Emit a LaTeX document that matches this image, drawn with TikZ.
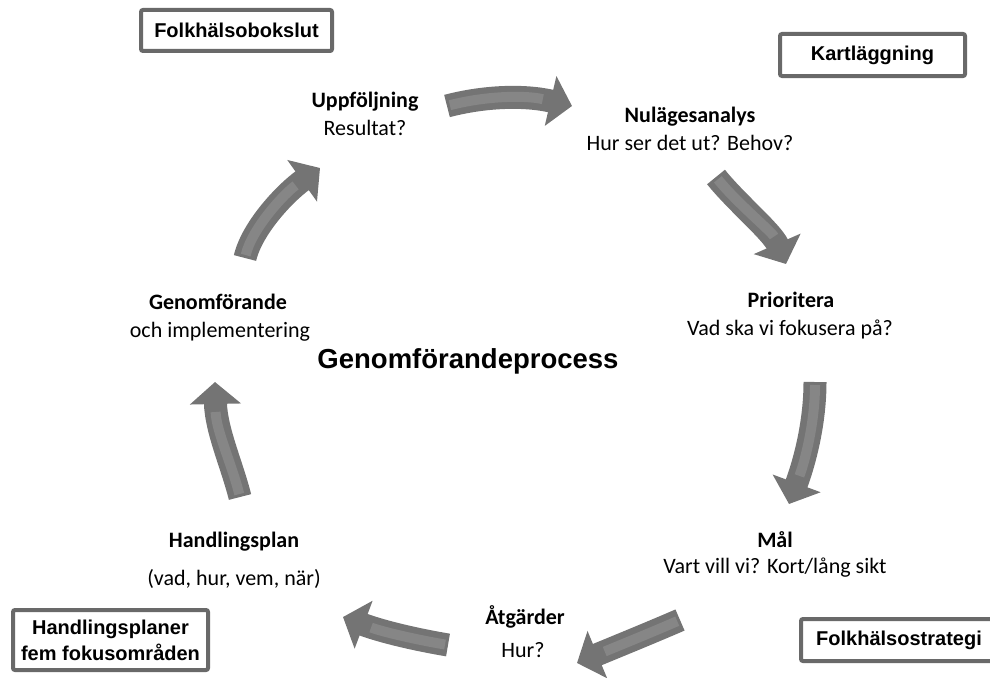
\documentclass[tikz,border=0pt]{standalone}
\usepackage{fontspec}
\setmainfont{Carlito}
\newfontfamily\arialfont{Liberation Sans}
\usetikzlibrary{arrows.meta}
\definecolor{arrowgray}{RGB}{116,116,116}
\definecolor{arrowlight}{RGB}{134,134,134}
\definecolor{boxgray}{RGB}{105,105,105}
\tikzset{
 stagehead/.style={font=\fontsize{22}{26}\selectfont\bfseries, inner sep=0pt, anchor=base},
 stagetext/.style={font=\fontsize{22}{26}\selectfont, inner sep=0pt, anchor=base},
 labelbox/.style={draw=boxgray, line width=4pt, rounded corners=2pt, fill=white, align=center, inner sep=0pt,
   font=\arialfont\bfseries\fontsize{20}{26}\selectfont},
 cyclearrow/.style={draw=arrowgray, line width=23pt, -{Triangle[width=50pt,length=22pt]}},
 arrowshine/.style={draw=arrowlight, line width=10pt, shorten >=30pt, shorten <=3pt},
}
\begin{document}
\begin{tikzpicture}[x=1pt,y=-1pt]
\useasboundingbox (0,0) rectangle (990,677);

% label boxes
\node[labelbox, minimum width=191pt, minimum height=41pt] (bokslut) at (236.5,30.5) {Folkhälsobokslut};
\node[labelbox, minimum width=185pt, minimum height=42pt] (kart) at (872.5,55) {Kartläggning};
\node[labelbox, minimum width=195pt, minimum height=60pt] (hplaner) at (110.5,640) {Handlingsplaner\\fem fokusområden};
\node[labelbox, minimum width=196pt, minimum height=42pt] (strategi) at (899,640) {Folkhälsostrategi};

% stage texts
\node[stagehead] (upp) at (365,107) {Uppföljning};
\node[stagetext] (uppt) at (365,135) {Resultat?};
\node[stagehead] (nul) at (690,122) {Nulägesanalys};
\node[stagetext] (nult) at (690,150) {Hur ser det ut? Behov?};
\node[stagehead] (prio) at (791,307) {Prioritera};
\node[stagetext] (priot) at (790,335) {Vad ska vi fokusera på?};
\node[stagehead] (mal) at (775,547) {Mål};
\node[stagetext] (malt) at (775,573) {Vart vill vi? Kort/lång sikt};
\node[stagehead] (atg) at (525,624) {Åtgärder};
\node[stagetext] (atgt) at (523,657) {Hur?};
\node[stagehead] (hpl) at (234,547) {Handlingsplan};
\node[stagetext] (hplt) at (234,585) {(vad, hur, vem, när)};
\node[stagehead] (gen) at (218,309) {Genomförande};
\node[stagetext] (gent) at (220,337) {och implementering};

\node[font=\arialfont\bfseries\fontsize{27.5}{32}\selectfont, inner sep=0pt, anchor=base] (title) at (468,368) {Genomförandeprocess};

% arrow end points
\coordinate (a1s) at (447,106); \coordinate (a1e) at (572,106);
\coordinate (a2s) at (716,177); \coordinate (a2e) at (786,264);
\coordinate (a3s) at (815,382); \coordinate (a3e) at (789,504);
\coordinate (a4s) at (680,620); \coordinate (a4e) at (577,663);
\coordinate (a5s) at (448,645); \coordinate (a5e) at (343,617);
\coordinate (a6s) at (240,497); \coordinate (a6e) at (215,382);
\coordinate (a7s) at (245,258); \coordinate (a7e) at (320,168);

\draw[cyclearrow] (a1s) .. controls (485,96) and (525,95) .. (a1e);
\draw[arrowshine] (a1s) .. controls (485,96) and (525,95) .. (a1e);
\draw[cyclearrow] (a2s) .. controls (736,202) and (772,232) .. (a2e);
\draw[arrowshine] (a2s) .. controls (736,202) and (772,232) .. (a2e);
\draw[cyclearrow] (a3s) .. controls (815,420) and (806,458) .. (a3e);
\draw[arrowshine] (a3s) .. controls (815,420) and (806,458) .. (a3e);
\draw[cyclearrow] (a4s) .. controls (650,633) and (618,646) .. (a4e);
\draw[arrowshine] (a4s) .. controls (650,633) and (618,646) .. (a4e);
\draw[cyclearrow] (a5s) .. controls (418,640) and (383,632) .. (a5e);
\draw[arrowshine] (a5s) .. controls (418,640) and (383,632) .. (a5e);
\draw[cyclearrow] (a6s) .. controls (232,465) and (216,430) .. (a6e);
\draw[arrowshine] (a6s) .. controls (232,465) and (216,430) .. (a6e);
\draw[cyclearrow] (a7s) .. controls (252,228) and (285,193) .. (a7e);
\draw[arrowshine] (a7s) .. controls (252,228) and (285,193) .. (a7e);
\end{tikzpicture}
\end{document}
